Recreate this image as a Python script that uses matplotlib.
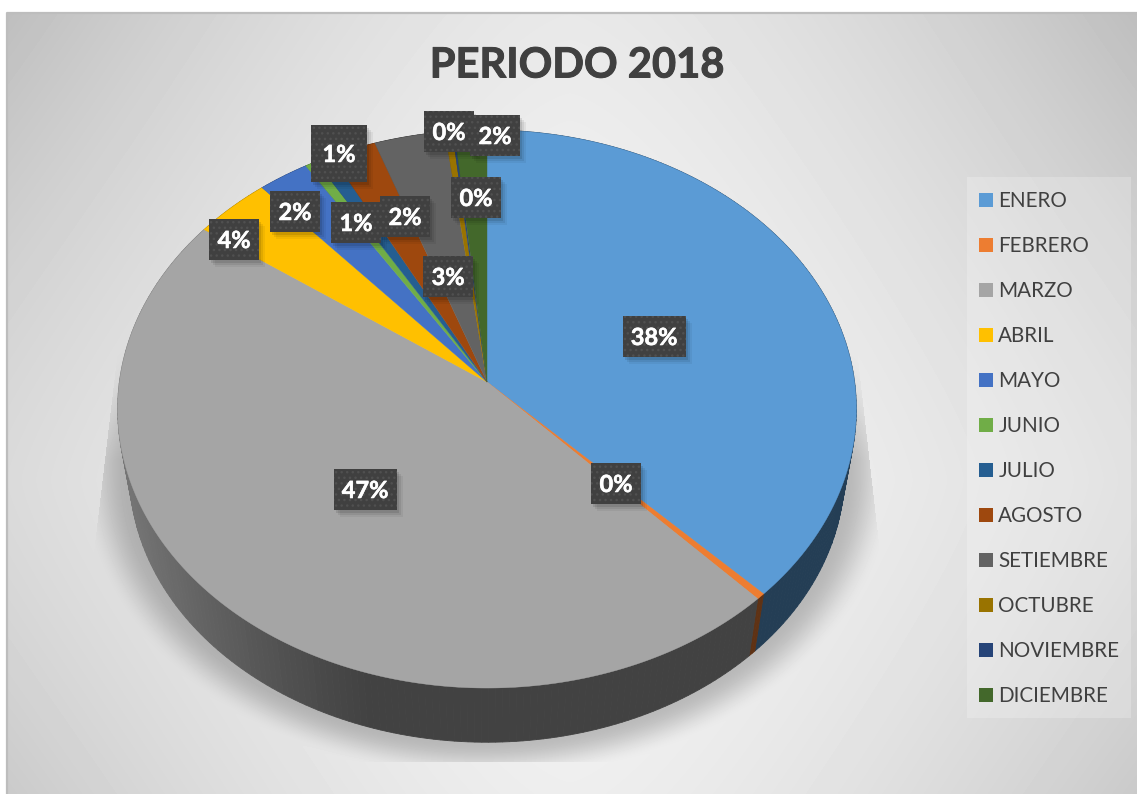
import numpy as np
import matplotlib
matplotlib.use("Agg")
import matplotlib.pyplot as plt
import matplotlib.patheffects as pe
from matplotlib.patches import Polygon, Rectangle

# ---- data ----
months = ["ENERO", "FEBRERO", "MARZO", "ABRIL", "MAYO", "JUNIO", "JULIO",
          "AGOSTO", "SETIEMBRE", "OCTUBRE", "NOVIEMBRE", "DICIEMBRE"]
shares = [37.65, 0.35, 46.9, 3.7, 2.45, 0.55, 0.8, 2.2, 3.4, 0.35, 0.1, 1.55]
colors = ["#5B9BD5", "#ED7D31", "#A5A5A5", "#FFC000", "#4472C4", "#70AD47",
          "#255E91", "#9E480E", "#636363", "#997300", "#264478", "#43682B"]
title = "PERIODO 2018"

# ---- layout ----
W, H = 1137, 794
CX, CY = 487.0, 382.0        # apex of the pie on screen
A, B, K = 367.6, 276.4, 0.0968   # perspective of the pie disc
WALL_S, WALL_D = 0.968, 64.0  # bottom rim: scale and drop
label_centers = [(654, 336), (616, 483), (365, 489), (234, 239), (295, 211),
                 (339, 153), (356, 222), (405, 216), (448, 276), (449, 131),
                 (476, 197), (495, 135)]
label_sizes = {5: (56, 57)}
TEXT = "#404040"
FONT = "Lato"


def rim(theta):
    """Clockwise angle from 12 o'clock -> screen point on the top rim."""
    u, v = np.sin(theta), np.cos(theta)
    d = 1 + K * v
    return CX + A * u / d, CY - B * v / d


def rim_low(theta):
    x, y = rim(theta)
    return CX + WALL_S * (x - CX), CY + WALL_D + WALL_S * (y - CY)


fig = plt.figure(figsize=(W / 100, H / 100), dpi=100, facecolor="white")
ax = fig.add_axes([0, 0, 1, 1])
ax.set_xlim(0, W)
ax.set_ylim(H, 0)
ax.axis("off")

# ---- background gradient ----
X0, Y0 = 7, 12
xx, yy = np.meshgrid(np.arange(X0, W) + 0.5, np.arange(Y0, H) + 0.5)
dx = np.abs(xx - 570) / 565
dy = np.where(yy < 480, (480 - yy) / 468, (yy - 480) / 468)
bg = 246 - 28 * dx ** 1.4 - 14 * dy ** 1.3 - 14 * dx ** 2 * dy ** 1.5

# pie's cast shadow
er = np.sqrt(((xx - CX) / 358) ** 2 + ((yy - 472) / 270) ** 2)
dist = (er - 1) * 300
t = np.clip(1 - dist / 42, 0, 1)
sh = t * t * (3 - 2 * t) * 0.22
sh *= np.clip((yy - 330) / 130, 0, 1)
left_lim = 118 - 26 * (yy - 350) / 220
right_lim = 857 + 25 * (yy - 350) / 220
sh[(xx < left_lim) | (xx > right_lim) | (yy > 762)] = 0
bg = bg * (1 - sh)
ax.imshow(bg, cmap="gray", vmin=0, vmax=255, extent=(X0, W, H, Y0),
          aspect="auto", interpolation="nearest", zorder=0)
ax.set_xlim(0, W)
ax.set_ylim(H, 0)
ax.plot([X0, X0, W], [H, Y0 + 0.5, Y0 + 0.5], color="#BDBDBD", lw=1.6, zorder=1)

# ---- pie ----
fractions = np.array(shares) / np.sum(shares)
edges = np.concatenate([[0], np.cumsum(fractions)]) * 2 * np.pi


def wall_factor(x):
    return 0.40 + 0.30 * np.clip((370 - x) / 240, 0, 1) ** 1.2


for i, col in enumerate(colors):
    n = max(2, int(np.degrees(edges[i + 1] - edges[i])) + 2)
    th = np.linspace(edges[i], edges[i + 1], n)
    base = np.array(matplotlib.colors.to_rgb(col))
    for a, b in zip(th[:-1], th[1:]):
        xa, ya = rim(a)
        xb, yb = rim(b)
        xc, yc = rim_low(b)
        xd, yd = rim_low(a)
        c = base * wall_factor(0.5 * (xa + xb))
        ax.add_patch(Polygon([(xa, ya), (xb, yb), (xc, yc), (xd, yd)], closed=True,
                             facecolor=c, edgecolor=c, lw=0.6, zorder=2))

for i, col in enumerate(colors):
    n = max(3, int(np.degrees(edges[i + 1] - edges[i])) * 2 + 3)
    th = np.linspace(edges[i], edges[i + 1], n)
    px, py = rim(th)
    pts = [(CX, CY)] + list(zip(px, py))
    ax.add_patch(Polygon(pts, closed=True, facecolor=col, edgecolor=col, lw=0.3, zorder=3))

# ---- data labels ----
for i, (cx, cy) in enumerate(label_centers):
    w, h = label_sizes.get(i, (50, 41))
    if shares[i] >= 9.5:
        w = 63
    for off, al in ((7, 0.05), (5, 0.07), (3, 0.10)):
        ax.add_patch(Rectangle((cx - w / 2 + off - 1, cy - h / 2 + off), w, h, facecolor="black",
                               alpha=al, lw=0, zorder=4 + i * 0.01))
    ax.add_patch(Rectangle((cx - w / 2, cy - h / 2), w, h, facecolor="#404040",
                           edgecolor="#505050", hatch="...", lw=0, zorder=4 + i * 0.01 + 0.001))
    ax.text(cx, cy + 1.5, f"{round(fractions[i] * 100)}%", color="white", fontsize=17,
            fontweight="bold", family=FONT, ha="center", va="center",
            path_effects=[pe.withStroke(linewidth=0.4, foreground="white")],
            zorder=4 + i * 0.01 + 0.002)

# ---- title ----
ax.text(577, 65.5, title, color=TEXT, fontsize=30, fontweight="bold", family=FONT,
        ha="center", va="center", zorder=5,
        path_effects=[pe.withStroke(linewidth=0.7, foreground=TEXT)])

# ---- legend ----
ax.add_patch(Rectangle((967, 177), 164, 541, facecolor="white", alpha=0.22, lw=0, zorder=1.5))
handles = [Rectangle((0, 0), 1, 1, facecolor=c, lw=0) for c in colors]
leg = ax.legend(handles, months, loc="upper left", bbox_to_anchor=(969 / W, 1 - 181 / H),
                bbox_transform=fig.transFigure, frameon=False, ncol=1,
                prop={"family": FONT, "size": 14.9}, labelcolor=TEXT,
                handlelength=0.67, handleheight=0.67, handletextpad=0.25,
                labelspacing=1.207, borderpad=0.5, borderaxespad=0)
leg.set_zorder(5)

fig.savefig("out.png", dpi=100, facecolor="white")
